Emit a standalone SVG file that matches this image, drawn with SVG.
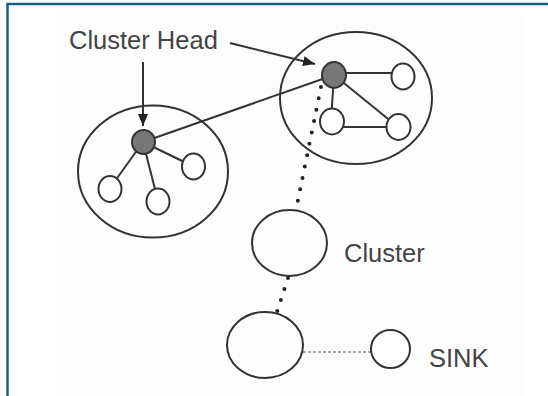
<svg xmlns="http://www.w3.org/2000/svg" width="548" height="396" viewBox="0 0 548 396">
<style>
.big{fill:none;stroke:#333;stroke-width:2}
.node{fill:#fff;stroke:#333;stroke-width:2}
.head{fill:#777;stroke:#333;stroke-width:2}
.edge{stroke:#333;stroke-width:2;fill:none}
.dots{stroke:#222;stroke-width:4;stroke-linecap:round;stroke-dasharray:0 11.6;fill:none}
.lbl{font-family:"Liberation Sans",Arial,sans-serif;font-size:25.5px;fill:#444}
</style>
<defs>
<marker id="ah" viewBox="0 0 12 10" refX="12" refY="5" markerWidth="6" markerHeight="5.5" orient="auto" markerUnits="strokeWidth">
<path d="M0,0 L12,5 L0,10 z" fill="#222"/>
</marker>
</defs>
<rect width="548" height="396" fill="#fff"/>
<rect x="55" y="14" width="470" height="382" fill="#fdfdfd"/>
<line x1="7" y1="4" x2="548" y2="4" stroke="#1a5f85" stroke-width="2.5"/>
<line x1="7.5" y1="3" x2="7.5" y2="396" stroke="#1a5f85" stroke-width="2.5"/>

<g id="connectors">
<line class="edge" x1="143" y1="142" x2="334" y2="75"/>
<line class="edge" x1="143" y1="142" x2="193.5" y2="166.5"/>
<line class="edge" x1="143" y1="142" x2="110" y2="188"/>
<line class="edge" x1="143" y1="142" x2="158" y2="201"/>
<line class="edge" x1="334" y1="73" x2="403" y2="73"/>
<line class="edge" x1="334" y1="75" x2="331" y2="121"/>
<line class="edge" x1="334" y1="75" x2="398" y2="127"/>
<line class="edge" x1="332" y1="127" x2="398" y2="127"/>
<path class="dots" d="M321,87 L297,205"/>
<path class="dots" d="M288,278 L277,312"/>
<line x1="303" y1="352" x2="371" y2="352" stroke="#555" stroke-width="1.2" stroke-dasharray="3 2"/>
<line class="edge" x1="143" y1="62" x2="143" y2="126" marker-end="url(#ah)"/>
<line class="edge" x1="230" y1="43" x2="315" y2="64" marker-end="url(#ah)"/>
</g>

<g id="cluster-left">
<ellipse class="big" cx="153" cy="171.5" rx="75" ry="66"/>
</g>
<g id="cluster-right">
<ellipse class="big" cx="356" cy="98" rx="76" ry="66"/>
</g>
<g id="head-left"><ellipse class="head" cx="143.5" cy="142" rx="11.5" ry="12"/></g>
<g id="node-l1"><ellipse class="node" cx="193.5" cy="166.5" rx="11.5" ry="13"/></g>
<g id="node-l2"><ellipse class="node" cx="110" cy="189" rx="11.5" ry="13"/></g>
<g id="node-l3"><ellipse class="node" cx="158" cy="201.5" rx="11.5" ry="13"/></g>
<g id="head-right"><ellipse class="head" cx="334" cy="75" rx="12" ry="13"/></g>
<g id="node-r1"><ellipse class="node" cx="403" cy="76.5" rx="11.5" ry="13"/></g>
<g id="node-r2"><ellipse class="node" cx="332" cy="121.5" rx="12" ry="13"/></g>
<g id="node-r3"><ellipse class="node" cx="398.5" cy="127" rx="12" ry="13"/></g>
<g id="cluster-mid"><ellipse class="big" cx="289.5" cy="243" rx="37.5" ry="33"/></g>
<g id="cluster-low"><ellipse class="big" cx="265" cy="345" rx="38" ry="33"/></g>
<g id="sink"><ellipse class="node" cx="390.5" cy="349" rx="19.5" ry="19"/></g>

<g id="labels">
<text class="lbl" x="69" y="48.5">Cluster Head</text>
<text class="lbl" x="344" y="262">Cluster</text>
<text class="lbl" x="429" y="367">SINK</text>
</g>
</svg>
